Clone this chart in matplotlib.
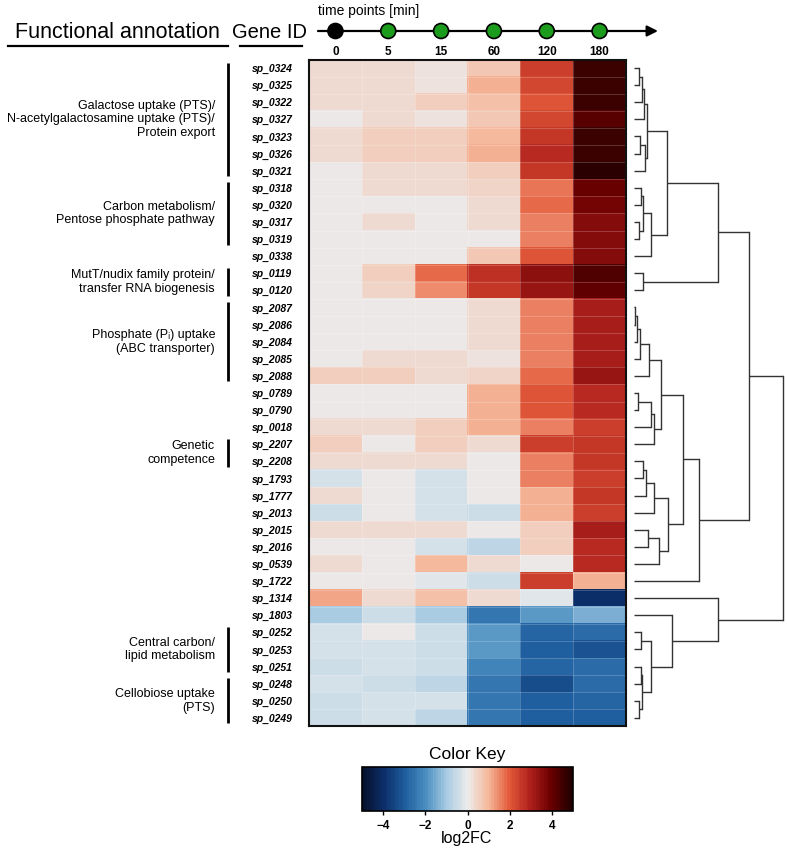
import numpy as np
import matplotlib
matplotlib.use('Agg')
import matplotlib.pyplot as plt
from matplotlib.colors import LinearSegmentedColormap, ListedColormap, Normalize
from matplotlib.patches import Circle
import matplotlib.cm as cm

plt.rcParams['font.family'] = ['Liberation Sans', 'DejaVu Sans']

# ---------------- data ----------------
genes = ['sp_0324', 'sp_0325', 'sp_0322', 'sp_0327', 'sp_0323', 'sp_0326', 'sp_0321',
         'sp_0318', 'sp_0320', 'sp_0317', 'sp_0319', 'sp_0338', 'sp_0119', 'sp_0120',
         'sp_2087', 'sp_2086', 'sp_2084', 'sp_2085', 'sp_2088', 'sp_0789', 'sp_0790',
         'sp_0018', 'sp_2207', 'sp_2208', 'sp_1793', 'sp_1777', 'sp_2013', 'sp_2015',
         'sp_2016', 'sp_0539', 'sp_1722', 'sp_1314', 'sp_1803', 'sp_0252', 'sp_0253',
         'sp_0251', 'sp_0248', 'sp_0250', 'sp_0249']
time_points = ['0', '5', '15', '60', '120', '180']

t0 = [0.3, 0.3, 0.35, 0.0, 0.35, 0.3, 0.05, 0.05, 0.05, 0.05, 0.05, 0.05, 0.05, 0.05,
      0.05, 0.05, 0.05, 0.05, 0.5, 0.05, 0.05, 0.3, 0.5, 0.3, -0.3, 0.3, -0.5, 0.3,
      0.0, 0.3, 0.0, 1.2, -0.9, -0.3, -0.3, -0.5, -0.3, -0.5, -0.5]
t5 = [0.25, 0.25, 0.3, 0.25, 0.5, 0.5, 0.3, 0.25, 0.05, 0.3, 0.05, 0.05, 0.6, 0.4,
      0.05, 0.05, 0.05, 0.3, 0.5, 0.05, 0.05, 0.3, 0.0, 0.3, 0.0, 0.0, 0.0, 0.3,
      0.0, 0.0, 0.0, 0.3, -0.4, 0.0, -0.3, -0.3, -0.5, -0.3, -0.3]
t15 = [0.2, 0.2, 0.5, 0.2, 0.5, 0.5, 0.3, 0.25, 0.05, 0.05, 0.05, 0.05, 1.8, 1.4,
       0.05, 0.05, 0.05, 0.3, 0.3, 0.05, 0.05, 0.5, 0.5, 0.3, -0.3, -0.3, -0.3, 0.3,
       -0.3, 0.9, -0.2, 0.8, -0.9, -0.4, -0.4, -0.4, -0.7, -0.3, -0.7]
t60 = [0.7, 1.0, 0.8, 0.7, 0.9, 1.0, 0.5, 0.4, 0.3, 0.3, 0.1, 0.7, 2.7, 2.5,
       0.3, 0.3, 0.3, 0.2, 0.4, 1.0, 1.0, 1.1, 0.3, 0.05, 0.0, 0.0, -0.5, 0.0,
       -0.7, 0.3, -0.5, 0.3, -2.4, -1.8, -1.8, -2.2, -2.4, -2.5, -2.5]
t120 = [2.4, 2.3, 2.0, 2.3, 2.6, 2.8, 2.5, 1.7, 1.8, 1.5, 1.5, 2.1, 3.4, 3.3,
        1.5, 1.5, 1.5, 1.5, 1.8, 2.0, 2.1, 1.6, 2.4, 1.6, 1.5, 1.1, 1.0, 0.5,
        0.6, 0.0, 2.4, -0.2, -1.8, -2.8, -3.0, -2.8, -3.3, -3.0, -2.9]
t180 = [4.6, 4.5, 4.6, 4.2, 4.6, 4.5, 4.8, 3.9, 3.8, 3.5, 3.5, 3.5, 4.3, 4.0,
        3.0, 3.0, 3.0, 3.0, 3.3, 2.8, 2.8, 2.4, 2.6, 2.6, 2.4, 2.6, 2.4, 3.0,
        2.8, 2.8, 1.0, -4.0, -1.4, -2.7, -3.2, -2.7, -2.7, -2.8, -2.9]

annotation_labels = ['Galactose uptake (PTS)/\nN-acetylgalactosamine uptake (PTS)/\nProtein export',
                     'Carbon metabolism/\nPentose phosphate pathway',
                     'MutT/nudix family protein/\ntransfer RNA biogenesis',
                     'Phosphate (P\u1d62) uptake\n(ABC transporter)',
                     'Genetic\ncompetence',
                     'Central carbon/\nlipid metabolism',
                     'Cellobiose uptake\n(PTS)']
annotation_first = [0, 7, 12, 14, 22, 33, 36]
annotation_last = [6, 10, 13, 18, 23, 35, 38]

# dendrogram merges: (child a, child b, height); leaves 0..38, new nodes 39..
merges = [(0, 1, 16), (39, 2, 23), (40, 3, 30), (4, 5, 18), (42, 6, 33), (41, 43, 38),
          (7, 8, 20), (9, 10, 15), (45, 46, 28), (47, 11, 50), (44, 48, 98),
          (12, 13, 26), (49, 50, 253),
          (14, 15, 3), (52, 16, 8), (53, 17, 18), (54, 18, 46), (19, 20, 13),
          (56, 21, 51), (57, 22, 61), (55, 58, 81), (23, 24, 28), (60, 25, 36),
          (61, 26, 61), (27, 28, 43), (63, 29, 76), (62, 64, 101), (59, 65, 148),
          (66, 30, 196), (51, 67, 346),
          (33, 34, 20), (35, 36, 20), (37, 38, 15), (70, 71, 24), (69, 72, 50),
          (32, 73, 113), (31, 74, 253), (68, 75, 448)]

key_ticks = [-4, -2, 0, 2, 4]

# ---------------- figure ----------------
W, H = 787, 851
fig = plt.figure(figsize=(W / 100, H / 100), dpi=100)

def fx(px):
    return px / W

def fy(px):
    return 1 - px / H

values = np.column_stack([t0, t5, t15, t60, t120, t180])
nrow, ncol = values.shape

anchors = ['#07122e', '#0c2f6a', '#1f5e9f', '#4a8fc1', '#a8cbe2', '#ececec',
           '#f6b89b', '#e35a39', '#b0211d', '#6b0000', '#220000']
base = LinearSegmentedColormap.from_list('key', anchors)
cmap = ListedColormap(base(np.linspace(0, 1, 80)))
norm = Normalize(vmin=-5, vmax=5)

# overlay axes in pixel coordinates
ax_o = fig.add_axes([0, 0, 1, 1])
ax_o.set_xlim(0, W)
ax_o.set_ylim(H, 0)
ax_o.axis('off')

# heatmap
hm_left, hm_right, hm_top, hm_bot = 309, 626, 59.5, 726.4
ax = fig.add_axes([fx(hm_left), fy(hm_bot), fx(hm_right - hm_left), (hm_bot - hm_top) / H])
ax.imshow(values, cmap=cmap, norm=norm, aspect='auto', interpolation='nearest')
for r in range(1, nrow):
    ax.axhline(r - 0.5, color='white', lw=0.4, alpha=0.35)
for c in range(1, ncol):
    ax.axvline(c - 0.5, color='white', lw=0.4, alpha=0.35)
ax.set_xlim(-0.5, ncol - 0.5)
ax.set_ylim(nrow - 0.5, -0.5)
ax.set_xticks([])
ax.set_yticks(range(nrow))
ax.set_yticklabels(genes, fontsize=7.5, fontstyle='italic', fontweight='bold')
ax.tick_params(axis='y', length=0, pad=12)
for s in ax.spines.values():
    s.set_linewidth(1.5)
    s.set_color('#111111')

# dendrogram
ax_d = fig.add_axes([fx(634), fy(hm_bot), fx(783 - 634), (hm_bot - hm_top) / H])
pos = {i: float(i) for i in range(nrow)}
hgt = {i: 0.0 for i in range(nrow)}
node = nrow
for a, b, h in merges:
    for ch in (a, b):
        ax_d.plot([hgt[ch], h], [pos[ch], pos[ch]], color='#333333', lw=1.0,
                  solid_capstyle='butt', clip_on=False)
    ax_d.plot([h, h], [pos[a], pos[b]], color='#333333', lw=1.0, clip_on=False)
    pos[node] = (pos[a] + pos[b]) / 2
    hgt[node] = h
    node += 1
ax_d.set_xlim(0, max(m[2] for m in merges))
ax_d.set_ylim(nrow - 0.5, -0.5)
ax_d.axis('off')

# annotations
row_h = (hm_bot - hm_top) / nrow
for lab, r0, r1 in zip(annotation_labels, annotation_first, annotation_last):
    y0 = hm_top + r0 * row_h + 3
    y1 = hm_top + (r1 + 1) * row_h - 3
    ax_o.plot([228, 228], [y0, y1], color='black', lw=2, solid_capstyle='butt')
    ax_o.text(215, (y0 + y1) / 2, lab, ha='right', va='center', fontsize=9.0,
              linespacing=1.2)

# header
ax_o.text(117, 32, 'Functional annotation', ha='center', va='center', fontsize=15.5)
ax_o.plot([8, 228], [46, 46], color='black', lw=1.6)
ax_o.text(270, 32, 'Gene ID', ha='center', va='center', fontsize=14.5)
ax_o.plot([240, 302], [46, 46], color='black', lw=1.6)

col_w = (hm_right - hm_left) / ncol
col_x = [hm_left + col_w * (i + 0.5) for i in range(ncol)]
ax_o.annotate('', xy=(658, 31), xytext=(318, 31),
              arrowprops=dict(arrowstyle='-|>', lw=1.6, color='black', mutation_scale=16,
                              shrinkA=0, shrinkB=0))
for i, (x, t) in enumerate(zip(col_x, time_points)):
    ax_o.add_patch(Circle((x, 31), 7.5, fc='black' if i == 0 else '#1c9c1c',
                          ec='black', lw=1.2, zorder=5))
    ax_o.text(x, 52, t, ha='center', va='center', fontsize=8.5, fontweight='bold')
ax_o.text(318, 11, 'time points [min]', ha='left', va='center', fontsize=10)

# color key
ax_o.text(467, 755, 'Color Key', ha='center', va='center', fontsize=12.5)
ax_k = fig.add_axes([fx(362), fy(811), fx(573 - 362), 44 / H])
sm = cm.ScalarMappable(norm=norm, cmap=cmap)
cb = fig.colorbar(sm, cax=ax_k, orientation='horizontal', ticks=key_ticks)
cb.outline.set_linewidth(1.2)
cb.ax.tick_params(labelsize=8.5, length=3, width=1)
cb.ax.set_xticklabels(['\u2212' + str(abs(t)) if t < 0 else str(t) for t in key_ticks],
                      fontweight='bold')
ax_o.text(467, 838, 'log2FC', ha='center', va='center', fontsize=11.5)

fig.savefig('out.png', dpi=100)
